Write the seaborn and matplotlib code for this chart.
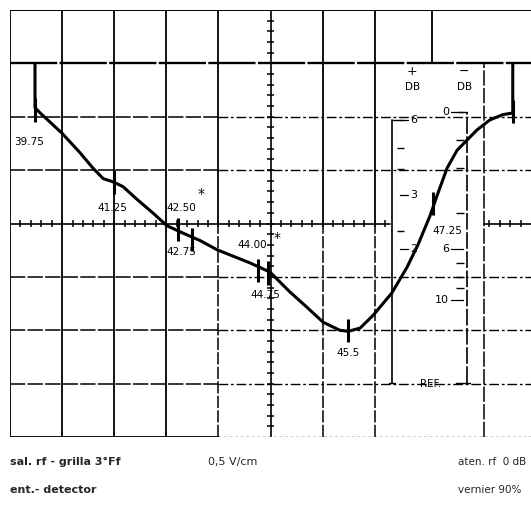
import numpy as np
import pandas as pd
import matplotlib.pyplot as plt
import seaborn as sns

# Trace, in graticule divisions (x 0-10, y 0-8)
trace_x = [0.48, 0.48, 0.58, 1.00, 1.34, 1.59, 1.79, 1.98, 2.17, 2.44, 2.74, 3.01,
           3.32, 3.65, 3.97, 4.61, 4.99, 5.37, 5.70, 6.01, 6.33, 6.49, 6.72, 6.97,
           7.33, 7.62, 7.83, 8.06, 8.20, 8.39, 8.58, 8.77, 8.96, 9.21, 9.46, 9.65,
           9.65]
trace_y = [7.00, 6.17, 6.07, 5.69, 5.33, 5.04, 4.84, 4.78, 4.69, 4.45, 4.20, 3.96,
           3.82, 3.68, 3.51, 3.26, 3.09, 2.72, 2.43, 2.15, 2.00, 1.98, 2.04, 2.28,
           2.70, 3.18, 3.60, 4.14, 4.53, 5.04, 5.37, 5.56, 5.75, 5.94, 6.04, 6.07,
           7.00]

# frequency marks (MHz) on the trace
mark_labels = ["39.75", "41.25", "42.50", "42.75", "44.00", "44.75", "45.5", "47.25", ""]
mark_x = [0.48, 2.00, 3.22, 3.49, 4.76, 4.95, 6.49, 8.12, 9.65]
mark_y = [6.13, 4.78, 3.89, 3.70, 3.12, 3.07, 2.00, 4.37, 6.10]
label_x = [0.08, 1.67, 3.00, 3.00, 4.36, 4.61, 6.26, 8.10, 9.65]
label_y = [5.52, 4.29, 4.29, 3.47, 3.60, 2.66, 1.57, 3.86, 6.10]

# dB scales drawn on the screen
plus_labels = ["6", "3", "2"]
plus_y = [5.94, 4.53, 3.53]
plus_minor_y = [5.42, 5.02, 3.86]
minus_labels = ["0", "6", "10"]
minus_y = [6.09, 3.53, 2.57]
minus_minor_y = [5.56, 5.04, 4.20, 3.26, 3.00, 2.79]

# captions under the photo
caption_left = ["sal. rf - grilla 3°Ff", "ent.- detector"]
caption_mid = "0,5 V/cm"
caption_right = ["aten. rf  0 dB", "vernier 90%"]

sns.set_theme(style="white")
plt.rcParams["font.family"] = ["DejaVu Sans"]

fig = plt.figure(figsize=(5.31, 5.08), dpi=100)
ax = fig.add_axes([10 / 531, 71 / 508, 521 / 531, 427 / 508])

k = "black"
dash = (0, (7, 2, 2, 2))

# graticule
for x in [0, 1, 2, 3]:
    ax.plot([x, x], [0, 8], color=k, lw=1.3)
for x in [4, 6, 7]:
    ax.plot([x, x], [4, 8], color=k, lw=1.3)
    ax.plot([x, x], [0, 4], color=k, lw=1.1, ls=(0, (8, 1.5)))
ax.plot([8.1, 8.1], [7, 8], color=k, lw=1.3)
ax.plot([9.1, 9.1], [0, 7], color=k, lw=1.1, ls=(0, (10, 1.5)))
ax.plot([0, 10], [8, 8], color=k, lw=1.4)
ax.plot([0, 10], [7, 7], color=k, lw=1.7, ls=(0, (20, 1)))
for y in [6, 5, 3, 2, 1]:
    ax.plot([0, 4], [y, y], color=k, lw=1.1, ls=(0, (10, 1.5)))
    ax.plot([4, 10], [y, y], color=k, lw=1.0, ls=dash)
ax.plot([0, 4], [0, 0], color=k, lw=1.3)
ax.plot([4, 10], [0, 0], color=k, lw=1.0, ls=(0, (2, 2)))

# centre axes with subdivision ticks
ax.plot([0, 7.3], [4, 4], color=k, lw=1.2)
ax.plot([9.1, 10], [4, 4], color=k, lw=1.2)
ax.plot([5, 5], [0, 8], color=k, lw=1.2)
sub = np.arange(0.2, 10, 0.2)
sub = sub[(sub < 7.3) | (sub > 9.1)]
ax.vlines(sub, 3.93, 4.07, color=k, lw=1.1)
ax.hlines(np.arange(0.2, 8, 0.2), 4.93, 5.07, color=k, lw=1.1)

# trace
df = pd.DataFrame({"x": trace_x, "y": trace_y})
sns.lineplot(data=df, x="x", y="y", sort=False, estimator=None,
             color=k, lw=2.2, ax=ax)
ax.lines[-1].set_solid_joinstyle("round")

# frequency marks
ax.vlines(mark_x, np.array(mark_y) - 0.22, np.array(mark_y) + 0.22, color=k, lw=2.2)
for t, x, y in zip(mark_labels, label_x, label_y):
    ax.text(x, y, t, fontsize=7.5, ha="left", va="center", color=k)
ax.text(3.67, 4.55, "*", fontsize=10, color=k, ha="center", va="center")
ax.text(5.12, 3.72, "*", fontsize=10, color=k, ha="center", va="center")

# dB scales
xl, xr = 7.33, 8.77
ax.plot([xl, xl], [1.02, 5.94], color=k, lw=1.2)
ax.plot([xl, 7.55], [5.94, 5.94], color=k, lw=1.0)
ax.plot([xr, xr], [1.02, 6.09], color=k, lw=1.2, ls=(0, (10, 1.5)))
ax.plot([8.6, xr], [6.09, 6.09], color=k, lw=1.0)
ax.plot([xl - 0.06, xl + 0.06], [1.02, 1.02], color=k, lw=1.0)
ax.plot([xr - 0.2, xr + 0.05], [1.02, 1.02], color=k, lw=1.0)
ax.hlines(plus_minor_y, xl + 0.1, xl + 0.23, color=k, lw=1.0)
ax.hlines(minus_minor_y, xr - 0.2, xr - 0.05, color=k, lw=1.0)
for t, y in zip(plus_labels, plus_y):
    ax.plot([xl + 0.15, xl + 0.3], [y, y], color=k, lw=0.9)
    ax.text(xl + 0.35, y, t, fontsize=8, ha="left", va="center", color=k)
for t, y in zip(minus_labels, minus_y):
    ax.plot([xr - 0.3, xr - 0.08], [y, y], color=k, lw=0.9)
    ax.text(xr - 0.34, y, t, fontsize=8, ha="right", va="center", color=k)
ax.text(7.72, 6.84, "+", fontsize=9, ha="center", va="center", color=k)
ax.text(7.72, 6.55, "DB", fontsize=7.5, ha="center", va="center", color=k)
ax.text(8.72, 6.84, "\u2212", fontsize=9, ha="center", va="center", color=k)
ax.text(8.72, 6.55, "DB", fontsize=7.5, ha="center", va="center", color=k)
ax.text(8.07, 1.0, "REF.", fontsize=7.5, ha="center", va="center", color=k)

ax.set_xlim(0, 10)
ax.set_ylim(0, 8)
ax.axis("off")

# captions
fig.text(10 / 531, 1 - 462 / 508, caption_left[0], fontsize=8, fontweight="bold", va="center")
fig.text(10 / 531, 1 - 490 / 508, caption_left[1], fontsize=8, fontweight="bold", va="center")
fig.text(208 / 531, 1 - 462 / 508, caption_mid, fontsize=8, va="center")
fig.text(458 / 531, 1 - 462 / 508, caption_right[0], fontsize=7.5, va="center")
fig.text(458 / 531, 1 - 490 / 508, caption_right[1], fontsize=7.5, va="center")

fig.savefig("out.png", dpi=100, facecolor="white")
